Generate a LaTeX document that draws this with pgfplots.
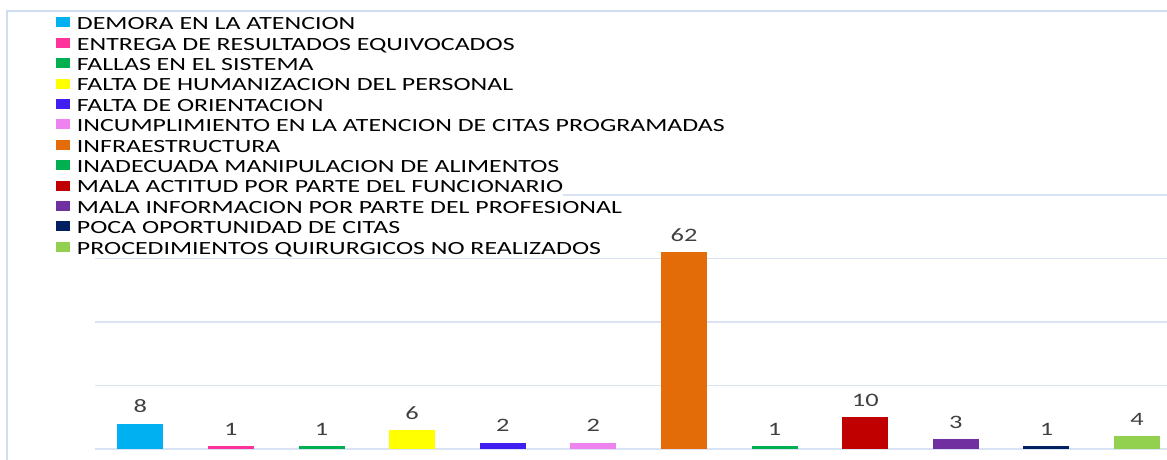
\documentclass[border=0pt]{standalone}
\usepackage{pgfplots}
\pgfplotsset{compat=1.18}
\usepackage{fontspec}
\setmainfont{Carlito}[FakeStretch=1.39]
\definecolor{c1}{HTML}{00B0F0}
\definecolor{c2}{HTML}{FF3399}
\definecolor{c3}{HTML}{00B050}
\definecolor{c4}{HTML}{FFFF00}
\definecolor{c5}{HTML}{4020F0}
\definecolor{c6}{HTML}{EE82EE}
\definecolor{c7}{HTML}{E36C09}
\definecolor{c8}{HTML}{00B050}
\definecolor{c9}{HTML}{C00000}
\definecolor{c10}{HTML}{7030A0}
\definecolor{c11}{HTML}{002060}
\definecolor{c12}{HTML}{92D050}
\definecolor{gridc}{HTML}{DAE3F3}
\definecolor{framec}{HTML}{D0DCEF}
\definecolor{lblc}{HTML}{404040}
\pgfplotsset{mybar/.style={fill=#1, draw=none, bar shift=0pt,
  legend image code/.code={\fill[##1] (0pt,-2.5pt) rectangle (7pt,2.5pt);}}}
\begin{document}
\begin{tikzpicture}[x=1pt,y=1pt]
\useasboundingbox (0,0) rectangle (583.5,230);
\draw[framec, line width=0.8pt] (3.5,0) -- (3.5,224.5) -- (583.5,224.5);
\begin{axis}[at={(47.5pt,5.5pt)}, anchor=south west, scale only axis,
  width=536pt, height=127pt,
  xmin=-0.5, xmax=11.33, ymin=0, ymax=80,
  ybar, bar width=23pt,
  axis line style={draw=none}, xtick=\empty,
  ytick={0,20,40,60,80}, yticklabels={}, major tick length=0pt,
  ymajorgrids, grid style={gridc, line width=0.8pt},
  clip=false,
  /pgf/number format/assume math mode=true,
  nodes near coords,
  every node near coord/.append style={font=\fontsize{9.5}{11}\selectfont, text=lblc, anchor=south, inner ysep=0pt, yshift=5.2pt},
  legend cell align=left,
  legend style={at={(-0.0364,1.7197)}, anchor=north west, draw=none, fill=none,
    inner sep=0pt, outer sep=0pt, row sep=0pt,
    nodes={inner sep=0pt, outer sep=0pt, fill=white, text height=8.7pt, text depth=1.5pt, font=\fontsize{9.3}{11}\selectfont, text=black},
    /tikz/every odd column/.append style={column sep=3.5pt}},
]
\addplot[mybar=c1] coordinates {(0,8)};
\addlegendentry{DEMORA EN LA ATENCION}
\addplot[mybar=c2] coordinates {(1,1)};
\addlegendentry{ENTREGA DE RESULTADOS EQUIVOCADOS}
\addplot[mybar=c3] coordinates {(2,1)};
\addlegendentry{FALLAS EN EL SISTEMA}
\addplot[mybar=c4] coordinates {(3,6)};
\addlegendentry{FALTA DE HUMANIZACION DEL PERSONAL}
\addplot[mybar=c5] coordinates {(4,2)};
\addlegendentry{FALTA DE ORIENTACION}
\addplot[mybar=c6] coordinates {(5,2)};
\addlegendentry{INCUMPLIMIENTO EN LA ATENCION DE CITAS PROGRAMADAS}
\addplot[mybar=c7] coordinates {(6,62)};
\addlegendentry{INFRAESTRUCTURA}
\addplot[mybar=c8] coordinates {(7,1)};
\addlegendentry{INADECUADA MANIPULACION DE ALIMENTOS}
\addplot[mybar=c9] coordinates {(8,10)};
\addlegendentry{MALA ACTITUD POR PARTE DEL FUNCIONARIO}
\addplot[mybar=c10] coordinates {(9,3)};
\addlegendentry{MALA INFORMACION POR PARTE DEL PROFESIONAL}
\addplot[mybar=c11] coordinates {(10,1)};
\addlegendentry{POCA OPORTUNIDAD DE CITAS}
\addplot[mybar=c12] coordinates {(11,4)};
\addlegendentry{PROCEDIMIENTOS QUIRURGICOS NO REALIZADOS}
\end{axis}
\end{tikzpicture}
\end{document}
